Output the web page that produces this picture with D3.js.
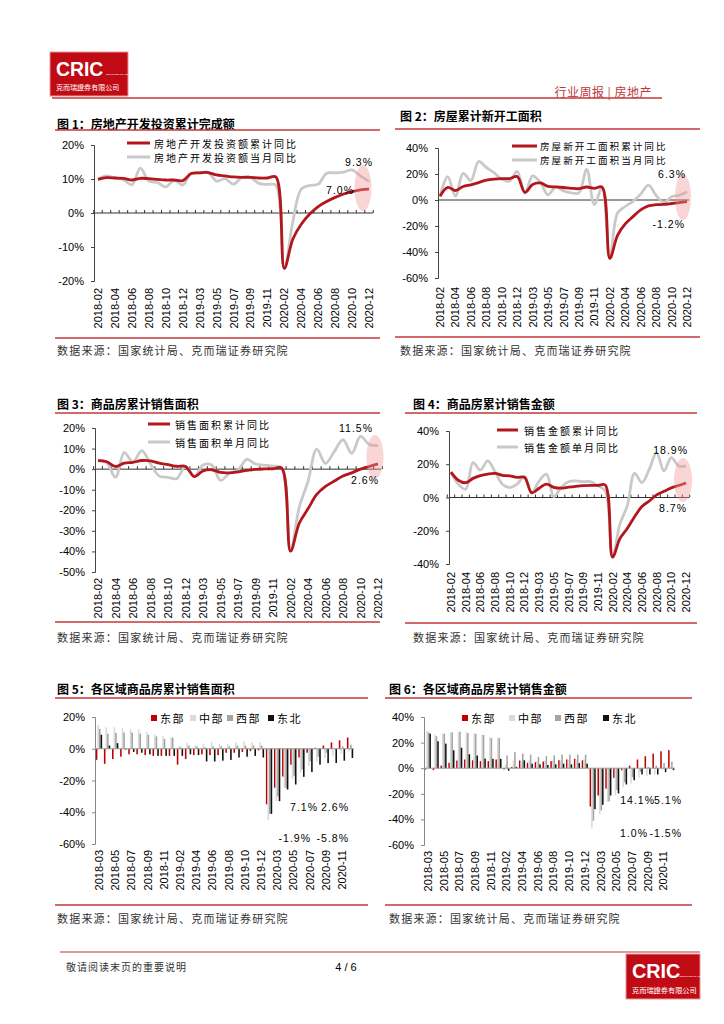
<!DOCTYPE html>
<html><head><meta charset="utf-8">
<script src="https://cdn.jsdelivr.net/npm/d3@7"></script>
<style>
body{margin:0;background:#fff;}
svg{display:block;}
text{font-family:"Liberation Sans",Arial,sans-serif;fill:#000;}
.cjk{font-family:"Noto Sans CJK SC","Noto Sans",sans-serif;}
</style></head><body>
<svg id="page" width="724" height="1024"></svg>
<script>
// ---------- DATA ----------
const monthCats = ["2018-02","2018-03","2018-04","2018-05","2018-06","2018-07","2018-08","2018-09","2018-10","2018-11","2018-12",
  "2019-02","2019-03","2019-04","2019-05","2019-06","2019-07","2019-08","2019-09","2019-10","2019-11","2019-12",
  "2020-02","2020-03","2020-04","2020-05","2020-06","2020-07","2020-08","2020-09","2020-10","2020-11","2020-12"];
const barCats = ["2018-03","2018-04","2018-05","2018-06","2018-07","2018-08","2018-09","2018-10","2018-11","2018-12",
  "2019-02","2019-03","2019-04","2019-05","2019-06","2019-07","2019-08","2019-09","2019-10","2019-11","2019-12",
  "2020-02","2020-03","2020-04","2020-05","2020-06","2020-07","2020-08","2020-09","2020-10","2020-11","2020-12"];

// Fig 1 房地产开发投资
const invCum = [9.9,10.4,10.3,10.2,9.7,10.2,10.1,9.9,9.7,9.7,9.5,11.6,11.8,11.9,11.2,10.9,10.6,10.5,10.5,10.3,10.3,10.6,-16.3,-7.7,-3.3,-0.3,1.9,3.4,4.6,5.6,6.3,6.8,7.0];
const invMon = [9.9,10.9,10.3,9.8,8.3,13.2,9.4,9.0,7.7,9.6,8.2,11.6,11.8,12.0,9.4,10.1,8.5,10.5,10.5,8.7,8.4,8.2,-16.3,-2.7,7.0,8.1,8.5,11.7,11.8,12.0,12.7,10.9,9.3];
// Fig 2 新开工面积
const startCum = [2.9,9.7,7.2,10.4,11.7,13.4,15.2,16.1,16.5,16.5,18.0,5.9,11.9,13.1,10.5,10.1,9.6,9.0,8.7,10.0,8.9,9.9,-44.9,-27.2,-18.4,-12.8,-7.6,-4.5,-3.6,-3.4,-2.7,-2.0,-1.2];
const startMon = [2.9,18.0,3.0,20.5,15.0,29.6,25.0,21.0,16.0,14.5,22.0,5.2,18.5,13.5,4.0,10.0,7.0,5.5,5.5,23.5,-3.5,9.8,-44.9,-10.0,-5.0,-1.0,4.5,11.5,3.5,-2.0,2.5,3.5,6.3];
// Fig 3 销售面积
const areaCum = [4.1,3.6,1.3,2.9,3.3,4.2,4.0,2.9,2.2,1.4,1.3,-3.6,-0.9,-0.3,-1.6,-1.8,-1.3,-0.6,-0.1,0.1,0.2,0.5,-39.9,-26.3,-19.3,-12.3,-8.4,-5.8,-3.3,-1.8,0.0,1.3,2.6];
const areaMon = [4.1,3.0,-4.0,8.0,3.5,9.0,2.5,-3.4,-4.0,-4.6,1.5,-3.6,2.0,2.0,-5.5,-2.0,-0.5,4.8,2.5,2.0,1.5,0.5,-39.9,-18.5,-6.0,9.7,2.8,8.5,14.3,7.7,15.9,12.0,11.5];
// Fig 4 销售金额
const valCum = [15.3,10.4,8.9,11.5,13.2,14.1,14.5,13.3,13.0,12.1,12.2,2.8,5.6,8.1,6.1,5.6,6.2,6.7,7.1,7.3,7.3,7.5,-35.9,-24.7,-18.6,-11.6,-5.4,-2.1,1.6,3.7,5.8,7.2,8.7];
const valMon = [15.3,8.0,5.0,21.0,16.5,22.0,15.5,8.0,6.0,8.0,12.5,2.8,10.0,14.0,0.5,6.0,9.5,10.0,9.5,9.5,7.0,4.0,-35.9,-16.0,-5.0,14.5,9.0,17.0,27.0,16.0,24.0,19.0,18.9];
// Fig 5 各区域销售面积
const areaEast    = [-7,-9.5,-6.5,-5,-3.5,-3.5,-4,-4.5,-4.5,-4.5,-10,-6.5,-4,-3.5,-4,-4,-2.5,-2.5,-2,-1.5,-1,-35,-24.5,-17.5,-10,-5.5,-2.5,0.6,2,4,5.3,7.1];
const areaCentral = [15,13.5,13.5,13,12.6,12.2,10.5,9,7.8,7.2,1.7,3.8,2,3.2,4.2,3.2,3.2,4.2,4.8,4.2,4.2,-45,-33,-24.6,-19,-15,-11,-8,-6,-4.5,-3,-1.9];
const areaWest    = [12.5,9.5,10,10.2,10.2,9.5,8.8,7.8,6.2,7,1,2,1.5,1,1.5,1.5,1.5,2,2,2,2,-41,-30,-24.6,-17,-13,-8,-5,-2.5,0,1.5,2.6];
const areaNE      = [8.8,2,3.5,-0.5,-2,-2.5,-3.5,-4.5,-4.5,-4.5,-4.5,-3.5,-4,-8,-8,-7.5,-7,-5.5,-5,-4.5,-5.5,-41,-33,-25.7,-22.5,-17.7,-14.7,-10,-9,-9,-7.5,-5.8];
// Fig 6 各区域销售金额
const valEast    = [-1,-1.5,2,4.2,6,6.8,6.2,5.5,5.5,6.8,-1,1,6,4.2,4.7,5.2,5.5,6.2,6.8,7.3,6.2,-30,-21.3,-16,-7.5,-1.6,2,6.8,9.4,11.4,13.2,14.1];
const valCentral = [29,26,27,28,28.5,28,27,26,24,24,3,6,5,6,5.5,6,6,6,6.5,6.5,7,-47,-36,-26.5,-21.3,-14.8,-12,-7.5,-6.2,-5,-1.5,1.0];
const valWest    = [28,25,27,28,28.5,27.5,27,26,23.5,23.5,10,12.5,11.4,10.6,8.8,9.4,10,10.6,10.6,10.6,10.6,-41,-33,-26,-17,-11,-7,-3,1,2,4,5.1];
const valNE      = [27,21,19.2,14,16,10.9,9.9,7.5,7.3,7.3,-2,1,6.2,3.5,3,2.5,3,3.5,3,4,3.5,-32,-28.6,-21.3,-19.7,-12.7,-9.4,-4.9,-4.9,-4.9,-3.1,-1.5];

const regionNames = ["东部","中部","西部","东北"];
const sourceText = "数据来源：国家统计局、克而瑞证券研究院";

// ---------- STYLE ----------
const RULE = "#C0383A";
const CUM_COLOR = "#B3161C";
const MON_COLOR = "#C9C9C9";
const REGION_COLORS = ["#C00000","#DADADA","#A3A3A3","#111111"];
const svg = d3.select("#page");

// ---------- HEADER / FOOTER ----------
function logo(x,y,w,h){
  const g = svg.append("g");
  g.append("rect").attr("x",x).attr("y",y).attr("width",w).attr("height",h)
    .attr("fill","#C00A14").attr("stroke","#E39A9A").attr("stroke-width",1);
  g.append("text").attr("x",x+6).attr("y",y+h*0.54).attr("font-size",h*0.44).attr("font-weight","bold")
    .style("fill","#fff").attr("font-family","Open Sans, Liberation Sans").text("CRIC");
  g.append("text").attr("x",x+w*0.72).attr("y",y+h*0.52).attr("font-size",2.2).style("fill","#fff").text("SECURITIES CO.,LTD");
  g.append("text").attr("class","cjk").attr("x",x+6).attr("y",y+h*0.86).attr("font-size",h*0.16)
    .style("fill","#fff").text("克而瑞證券有限公司");
}
logo(50,52,78,44);
svg.append("text").attr("class","cjk").attr("x",652).attr("y",91).attr("text-anchor","end")
  .attr("font-size",12).attr("letter-spacing",0.5).style("fill","#C0383A").attr("dominant-baseline","central").text("行业周报 | 房地产");
svg.append("line").attr("x1",52).attr("x2",662).attr("y1",98).attr("y2",98).attr("stroke",RULE).attr("stroke-width",1.5);

svg.append("line").attr("x1",60).attr("x2",700).attr("y1",952).attr("y2",952).attr("stroke",RULE).attr("stroke-width",1.2);
svg.append("text").attr("class","cjk").attr("x",66).attr("y",966).attr("font-size",10).attr("letter-spacing",1)
  .attr("dominant-baseline","central").style("fill","#333").text("敬请阅读末页的重要说明");
svg.append("text").attr("x",346).attr("y",967).attr("font-size",11).attr("text-anchor","middle")
  .attr("dominant-baseline","central").text("4 / 6");
logo(626,954,74,45);

// ---------- COMMON PIECES ----------
function titleBlock(o){
  svg.append("text").attr("class","cjk").attr("x",o.titleX).attr("y",o.titleY).attr("font-size",12)
    .attr("font-weight","bold").attr("dominant-baseline","central").text(o.title);
  svg.append("line").attr("x1",o.ruleX0).attr("x2",o.ruleX1).attr("y1",o.ruleY).attr("y2",o.ruleY)
    .attr("stroke",RULE).attr("stroke-width",1.6);
  svg.append("line").attr("x1",o.ruleX0).attr("x2",o.ruleX1).attr("y1",o.srcRuleY).attr("y2",o.srcRuleY)
    .attr("stroke",RULE).attr("stroke-width",1.6);
  svg.append("text").attr("class","cjk").attr("x",o.srcX).attr("y",o.srcY).attr("font-size",11)
    .attr("letter-spacing",1.2).attr("dominant-baseline","central").style("fill","#333").text(sourceText);
}
function yAxis(o,y){
  const ax = d3.axisLeft(y).tickValues(o.yTicks).tickSize(3).tickPadding(7).tickFormat(d=>d+"%");
  const g = svg.append("g").attr("transform",`translate(${o.axisX},0)`).call(ax);
  g.select(".domain").attr("stroke",o.axisColor||"#444");
  g.selectAll(".tick line").attr("stroke",o.axisColor||"#444");
  g.selectAll(".tick text").attr("font-size",11).attr("font-family","Liberation Sans, Arial").style("fill","#000");
}
function xLabels(cats,xpos,labelTop){
  const lab = cats.filter((c,i)=>i%2===0);
  svg.append("g").selectAll("text").data(lab).join("text")
    .attr("transform",c=>`translate(${xpos(c)},${labelTop}) rotate(-90)`)
    .attr("text-anchor","end").attr("dominant-baseline","central").attr("font-size",11).text(c=>c);
}
function notes(list){
  svg.append("g").selectAll("text").data(list).join("text")
    .attr("x",d=>d.x).attr("y",d=>d.y).attr("text-anchor","end").attr("dominant-baseline","central")
    .attr("font-size",10.5).attr("letter-spacing",1).text(d=>d.text);
}

// ---------- LINE CHART ----------
function lineChart(o){
  titleBlock(o);
  const x = d3.scalePoint().domain(monthCats).range([o.x0,o.x1]);
  const y = d3.scaleLinear().domain(o.yDomain).range([o.yBottom,o.yTop]);
  yAxis(o,y);
  const y0 = y(0);
  svg.append("line").attr("x1",o.axisX).attr("x2",o.axisEnd).attr("y1",y0).attr("y2",y0).attr("stroke","#333").attr("stroke-width",1);
  if(o.zeroTicks){
    const step = x.step();
    const tk = monthCats.map(c=>x(c)-step/2).concat([x(monthCats[monthCats.length-1])+step/2]);
    svg.append("g").selectAll("line").data(tk).join("line")
      .attr("x1",d=>d).attr("x2",d=>d).attr("y1",y0-3).attr("y2",y0).attr("stroke","#333");
  }
  xLabels(monthCats,x,o.labelTop);
  const line = d3.line().x((d,i)=>x(monthCats[i])).y(d=>y(d)).curve(d3.curveCatmullRom.alpha(0.5));
  svg.append("path").datum(o.mon).attr("d",line).attr("fill","none").attr("stroke",MON_COLOR).attr("stroke-width",2.8);
  svg.append("path").datum(o.cum).attr("d",line).attr("fill","none").attr("stroke",CUM_COLOR).attr("stroke-width",2.8);
  // legend
  const L = o.legend;
  [[L.y1,CUM_COLOR,o.names[0]],[L.y2,MON_COLOR,o.names[1]]].forEach(([ly,col,name])=>{
    svg.append("line").attr("x1",L.x0).attr("x2",L.x1).attr("y1",ly).attr("y2",ly).attr("stroke",col).attr("stroke-width",3);
    svg.append("text").attr("class","cjk").attr("x",L.tx).attr("y",ly).attr("font-size",L.fs||10).attr("letter-spacing",2)
      .attr("dominant-baseline","central").text(name);
  });
  svg.append("ellipse").attr("cx",o.ellipse[0]).attr("cy",o.ellipse[1]).attr("rx",o.ellipse[2]).attr("ry",o.ellipse[3])
    .attr("fill","rgba(240,150,150,0.4)");
  notes(o.notes);
}

// ---------- BAR CHART ----------
function barChart(o){
  titleBlock(o);
  const x = d3.scaleBand().domain(barCats).range([o.axisX,o.axisEnd]).paddingInner(0.22).paddingOuter(0.1);
  const xi = d3.scaleBand().domain(regionNames).range([0,x.bandwidth()]);
  const y = d3.scaleLinear().domain(o.yDomain).range([o.yBottom,o.yTop]);
  yAxis(Object.assign({axisColor:"#888"},o),y);
  const series = o.series;
  regionNames.forEach((r,k)=>{
    svg.append("g").selectAll("rect").data(series[k]).join("rect")
      .attr("x",(d,i)=>x(barCats[i])+xi(r)).attr("width",xi.bandwidth())
      .attr("y",d=>y(Math.max(0,d))).attr("height",d=>Math.abs(y(d)-y(0)))
      .attr("fill",REGION_COLORS[k]);
  });
  svg.append("line").attr("x1",o.axisX).attr("x2",o.axisEnd).attr("y1",y(0)).attr("y2",y(0)).attr("stroke","#999").attr("stroke-width",1);
  xLabels(barCats,c=>x(c)+x.bandwidth()/2,o.labelTop);
  // legend
  regionNames.forEach((r,k)=>{
    svg.append("rect").attr("x",o.legendXs[k]).attr("y",o.legendY-3).attr("width",6).attr("height",6).attr("fill",REGION_COLORS[k]);
    svg.append("text").attr("class","cjk").attr("x",o.legendXs[k]+9).attr("y",o.legendY).attr("font-size",11)
      .attr("letter-spacing",1.5).attr("dominant-baseline","central").text(r);
  });
  notes(o.notes);
}

lineChart({title:"图 1：房地产开发投资累计完成额",titleX:57,titleY:123,ruleY:130,ruleX0:55,ruleX1:380,
  srcRuleY:338,srcY:350,srcX:57,
  axisX:94,axisEnd:373,x0:98,x1:369,yTop:145,yBottom:281,yDomain:[-20,20],yTicks:[-20,-10,0,10,20],
  labelTop:288,zeroTicks:true,cum:invCum,mon:invMon,
  names:["房地产开发投资额累计同比","房地产开发投资额当月同比"],
  legend:{x0:127,x1:150,tx:154,y1:143,y2:157},ellipse:[363,188,8.5,23],
  notes:[{text:"9.3%",x:373,y:162},{text:"7.0%",x:354,y:190}]});

lineChart({title:"图 2：房屋累计新开工面积",titleX:400,titleY:115,ruleY:129,ruleX0:395,ruleX1:700,
  srcRuleY:337,srcY:350,srcX:400,
  axisX:438,axisEnd:689,x0:440,x1:687,yTop:148,yBottom:278,yDomain:[-60,40],yTicks:[-60,-40,-20,0,20,40],
  labelTop:287,zeroTicks:false,cum:startCum,mon:startMon,
  names:["房屋新开工面积累计同比","房屋新开工面积当月同比"],
  legend:{x0:512,x1:537,tx:540,y1:146,y2:160,fs:9.6},ellipse:[683,197,8,23],
  notes:[{text:"6.3%",x:686,y:174},{text:"-1.2%",x:685,y:224}]});

lineChart({title:"图 3：商品房累计销售面积",titleX:57,titleY:403,ruleY:413,ruleX0:55,ruleX1:380,
  srcRuleY:622,srcY:637,srcX:57,
  axisX:95,axisEnd:381,x0:98,x1:378,yTop:428,yBottom:572,yDomain:[-50,20],yTicks:[-50,-40,-30,-20,-10,0,10,20],
  labelTop:578,zeroTicks:true,cum:areaCum,mon:areaMon,
  names:["销售面积累计同比","销售面积单月同比"],
  legend:{x0:148,x1:170,tx:175,y1:424,y2:442},ellipse:[375,457,8.5,22],
  notes:[{text:"11.5%",x:373,y:428},{text:"2.6%",x:379,y:480}]});

lineChart({title:"图 4：商品房累计销售金额",titleX:413,titleY:403,ruleY:413,ruleX0:405,ruleX1:697,
  srcRuleY:623,srcY:637,srcX:413,
  axisX:449,axisEnd:689,x0:451,x1:686,yTop:431,yBottom:564,yDomain:[-40,40],yTicks:[-40,-20,0,20,40],
  labelTop:572,zeroTicks:true,cum:valCum,mon:valMon,
  names:["销售金额累计同比","销售金额单月同比"],
  legend:{x0:497,x1:518,tx:524,y1:430,y2:447},ellipse:[683,480,9,22],
  notes:[{text:"18.9%",x:688,y:450},{text:"8.7%",x:687,y:508}]});

barChart({title:"图 5：各区域商品房累计销售面积",titleX:57,titleY:688,ruleY:698,ruleX0:55,ruleX1:368,
  srcRuleY:905,srcY:918,srcX:57,
  axisX:95,axisEnd:354,yTop:717,yBottom:844,yDomain:[-60,20],yTicks:[-60,-40,-20,0,20],labelTop:850,
  series:[areaEast,areaCentral,areaWest,areaNE],legendXs:[151,190,227,268],legendY:718,
  notes:[{text:"7.1%",x:318,y:807},{text:"2.6%",x:349,y:807},{text:"-1.9%",x:311,y:838},{text:"-5.8%",x:349,y:838}]});

barChart({title:"图 6：各区域商品房累计销售金额",titleX:389,titleY:688,ruleY:698,ruleX0:385,ruleX1:692,
  srcRuleY:905,srcY:918,srcX:389,
  axisX:424,axisEnd:675,yTop:717,yBottom:845,yDomain:[-60,40],yTicks:[-60,-40,-20,0,20,40],labelTop:851,
  series:[valEast,valCentral,valWest,valNE],legendXs:[462,509,555,603],legendY:718,
  notes:[{text:"14.1%",x:655,y:800},{text:"5.1%",x:682,y:800},{text:"1.0%",x:648,y:833},{text:"-1.5%",x:682,y:833}]});
</script>
</body></html>
